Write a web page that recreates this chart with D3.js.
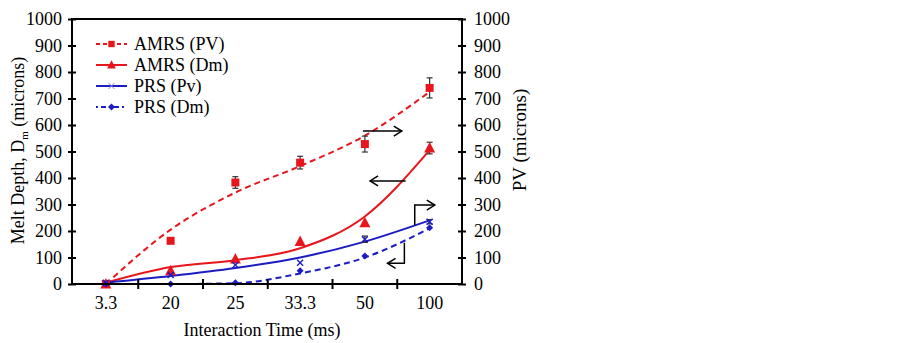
<!DOCTYPE html>
<html>
<head>
<meta charset="utf-8">
<script src="https://cdn.jsdelivr.net/npm/d3@7"></script>
<style>
  body { margin: 0; background: #fff; }
</style>
</head>
<body>
<div id="chart"></div>
<script>
// categories and measured values (microns)
var times = ["3.3", "20", "25", "33.3", "50", "100"];
var yTicks = [0, 100, 200, 300, 400, 500, 600, 700, 800, 900, 1000];

var amrsPv    = [0, 163, 383, 458, 528, 740];
var amrsPvErr = [0, 0, 22, 24, 30, 38];
var amrsPvFit = [0, 205, 345, 445, 560, 725];

var amrsDm    = [0, 50, 94, 160, 231, 513];
var amrsDmErr = [0, 0, 0, 0, 0, 22];
var amrsDmFit = [5, 64, 90, 135, 255, 505];

var prsPv    = [5, 34, 72, 80, 169, 235];
var prsPvErr = [0, 0, 0, 0, 12, 8];
var prsPvFit = [5, 30, 60, 100, 160, 240];

var prsDm    = [0, 0, 5, 50, 106, 212];
var prsDmFit = [0, 0, 3, 40, 100, 210];

var legendNames = ["AMRS (PV)", "AMRS (Dm)", "PRS (Pv)", "PRS (Dm)"];

// set the dimensions of the chart
var W = 902, H = 343;
var plotL = 72, plotR = 462, plotT = 19, plotB = 284;
var red = "#e8161c", blue = "#1c1cc4";
var serif = "'Liberation Serif', 'DejaVu Serif', serif";

var svg = d3.select("#chart").append("svg")
    .attr("width", W)
    .attr("height", H)
    .attr("font-family", serif);

// scales
var x = d3.scaleBand().domain(times).range([73.5, plotR]);
var y = d3.scaleLinear().domain([0, 1000]).range([plotB, plotT]);
var xc = function(d) { return x(d) + x.bandwidth() / 2; };
// fractional category index -> pixel, used for the arrows
var xi = function(i) { return xc(times[0]) + i * x.step(); };

// series definitions
var series = [
  {name: legendNames[0], vals: amrsPv, err: amrsPvErr, fit: amrsPvFit, color: red, dash: "6,4", marker: "square"},
  {name: legendNames[1], vals: amrsDm, err: amrsDmErr, fit: amrsDmFit, color: red, dash: null, marker: "triangle"},
  {name: legendNames[2], vals: prsPv, err: prsPvErr, fit: prsPvFit, color: blue, dash: null, marker: "x"},
  {name: legendNames[3], vals: prsDm, err: null, fit: prsDmFit, color: blue, dash: "6,4", marker: "diamond"}
];

function drawMarker(g, type, color, small) {
  var k = small ? 0.8 : 1;
  if (type == "square") {
    g.append("rect").attr("x", -4 * k).attr("y", -4 * k).attr("width", 8 * k).attr("height", 8 * k).attr("fill", color);
  } else if (type == "triangle") {
    g.append("path").attr("d", "M0," + (-6 * k) + "L" + (5.5 * k) + "," + (4.5 * k) + "L" + (-5.5 * k) + "," + (4.5 * k) + "Z").attr("fill", color);
  } else if (type == "x") {
    g.append("path").attr("d", "M-3,-3L3,3M-3,3L3,-3")
        .attr("stroke", small ? "#8a8ad8" : color).attr("stroke-width", small ? 1 : 1.4);
  } else {
    g.append("path").attr("d", "M0,-3.5L3.5,0L0,3.5L-3.5,0Z").attr("fill", color);
  }
}

var curve = d3.line()
    .x(function(d, i) { return xc(times[i]); })
    .y(function(d) { return y(d); })
    .curve(d3.curveMonotoneX);

// trend lines
series.forEach(function(s) {
  svg.append("path")
      .datum(s.fit)
      .attr("d", curve)
      .attr("fill", "none")
      .attr("stroke", s.color)
      .attr("stroke-width", 2)
      .attr("stroke-dasharray", s.dash);
});

// error bars
series.forEach(function(s) {
  if (!s.err) return;
  s.vals.forEach(function(v, i) {
    if (!s.err[i]) return;
    var cx = xc(times[i]);
    var g = svg.append("g").attr("stroke", "#333").attr("stroke-width", 1.2);
    g.append("line").attr("x1", cx).attr("x2", cx).attr("y1", y(v - s.err[i])).attr("y2", y(v + s.err[i]));
    g.append("line").attr("x1", cx - 3).attr("x2", cx + 3).attr("y1", y(v - s.err[i])).attr("y2", y(v - s.err[i]));
    g.append("line").attr("x1", cx - 3).attr("x2", cx + 3).attr("y1", y(v + s.err[i])).attr("y2", y(v + s.err[i]));
  });
});

// markers
series.forEach(function(s) {
  s.vals.forEach(function(v, i) {
    var g = svg.append("g").attr("transform", "translate(" + xc(times[i]) + "," + y(v) + ")");
    drawMarker(g, s.marker, s.color, false);
  });
});

// axes
var yl = svg.append("g")
    .attr("transform", "translate(" + plotL + ",0)")
    .call(d3.axisLeft(y).tickValues(yTicks).tickFormat(d3.format("d")).tickSize(4).tickPadding(6));
var yr = svg.append("g")
    .attr("transform", "translate(" + plotR + ",0)")
    .call(d3.axisRight(y).tickValues(yTicks).tickFormat(d3.format("d")).tickSize(4).tickPadding(8));
var xAxis = svg.append("g")
    .attr("transform", "translate(0," + plotB + ")")
    .call(d3.axisBottom(x).tickSize(0).tickPadding(12));

svg.selectAll(".domain").remove();
svg.selectAll("g").filter(function() { return this.getAttribute("font-family"); })
    .attr("font-family", serif).attr("font-size", 18);

// cross ticks on the y axes (both sides)
yl.selectAll(".tick line").attr("x1", 4).attr("stroke-width", 2);
yr.selectAll(".tick line").attr("x1", -4).attr("stroke-width", 2);

// tick marks on x axis, between categories
var xTicks = svg.append("g");
times.slice(1).forEach(function(t) {
  xTicks.append("line")
      .attr("x1", x(t)).attr("x2", x(t))
      .attr("y1", plotB - 5).attr("y2", plotB + 5)
      .attr("stroke", "#000").attr("stroke-width", 2);
});

// frame
svg.append("rect")
    .attr("x", plotL).attr("y", plotT)
    .attr("width", plotR - plotL).attr("height", plotB - plotT)
    .attr("fill", "none").attr("stroke", "#000").attr("stroke-width", 2);

// axis titles
var lt = svg.append("text")
    .attr("transform", "translate(24," + ((plotT + plotB) / 2 - 1) + ") rotate(-90)")
    .attr("text-anchor", "middle")
    .attr("font-size", 18);
lt.append("tspan").text("Melt Depth, D");
lt.append("tspan").attr("dy", 4).attr("font-size", 11).text("m");
lt.append("tspan").attr("dy", -4).text(" (microns)");

svg.append("text")
    .attr("transform", "translate(526,140) rotate(-90)")
    .attr("text-anchor", "middle")
    .attr("font-size", 19)
    .text("PV (microns)");

svg.append("text")
    .attr("x", (plotL + plotR) / 2 - 5).attr("y", 336)
    .attr("text-anchor", "middle")
    .attr("font-size", 18)
    .text("Interaction Time (ms)");

// legend
var legend = svg.append("g");
var legendDash = ["4,3", null, null, "2,3,5,3"];
series.forEach(function(s, i) {
  var ly = 44 + i * 21;
  legend.append("line")
      .attr("x1", 96).attr("x2", 127).attr("y1", ly).attr("y2", ly)
      .attr("stroke", s.color).attr("stroke-width", 2)
      .attr("stroke-dasharray", legendDash[i]);
  drawMarker(legend.append("g").attr("transform", "translate(111.5," + ly + ")"), s.marker, s.color, true);
  legend.append("text")
      .attr("x", 134).attr("y", ly + 6)
      .attr("font-size", 18)
      .text(s.name);
});

// annotation arrows
svg.append("defs").append("marker")
    .attr("id", "head")
    .attr("viewBox", "-10 -6 12 12")
    .attr("markerWidth", 12).attr("markerHeight", 12)
    .attr("markerUnits", "userSpaceOnUse")
    .attr("orient", "auto")
    .append("path")
    .attr("d", "M-8,-5L0,0L-8,5")
    .attr("fill", "none").attr("stroke", "#000").attr("stroke-width", 1.5);

var arrows = [
  [[3.97, 577], [4.57, 577]],
  [[4.63, 389], [4.08, 389]],
  [[4.77, 223], [4.77, 298], [5.08, 298]],
  [[4.61, 156], [4.61, 78], [4.35, 78]]
];
arrows.forEach(function(a) {
  svg.append("path")
      .attr("d", d3.line().x(function(p) { return xi(p[0]); }).y(function(p) { return y(p[1]); })(a))
      .attr("fill", "none").attr("stroke", "#000").attr("stroke-width", 1.5)
      .attr("marker-end", "url(#head)");
});
</script>
</body>
</html>
